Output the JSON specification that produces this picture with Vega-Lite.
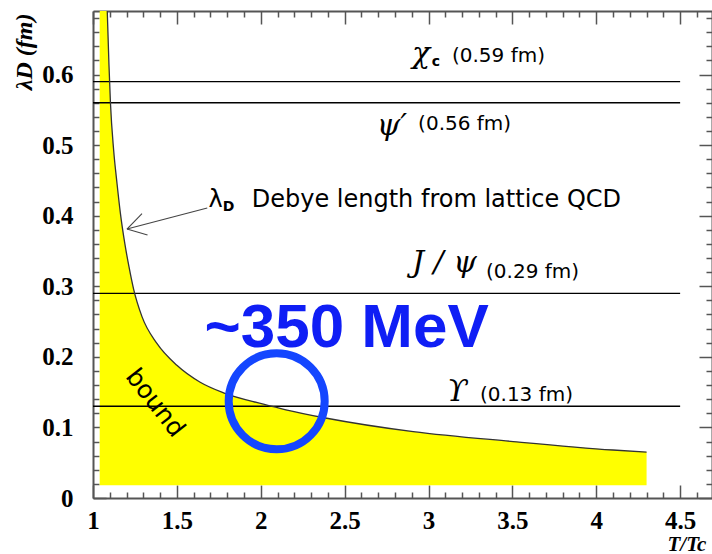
{
  "$schema": "https://vega.github.io/schema/vega-lite/v6.json",
  "width": 619,
  "height": 487,
  "autosize": {"type": "none"},
  "padding": {"left": 93, "top": 11, "right": 0, "bottom": 56},
  "background": "white",
  "config": {"view": {"stroke": null}},
  "datasets": {
    "curve": [
      {"T": 1.085, "L": 0.69},
      {"T": 1.095, "L": 0.615},
      {"T": 1.104, "L": 0.56},
      {"T": 1.123, "L": 0.493},
      {"T": 1.143, "L": 0.446},
      {"T": 1.163, "L": 0.404},
      {"T": 1.19, "L": 0.36},
      {"T": 1.215, "L": 0.327},
      {"T": 1.242, "L": 0.296},
      {"T": 1.292, "L": 0.257},
      {"T": 1.381, "L": 0.219},
      {"T": 1.5, "L": 0.188},
      {"T": 1.639, "L": 0.164},
      {"T": 1.778, "L": 0.149},
      {"T": 2.016, "L": 0.133},
      {"T": 2.15, "L": 0.125},
      {"T": 2.394, "L": 0.113},
      {"T": 2.909, "L": 0.094},
      {"T": 3.505, "L": 0.08},
      {"T": 4.1, "L": 0.068},
      {"T": 4.3, "L": 0.065}
    ],
    "area": [
      {"T": 1.04, "L": 0.69},
      {"T": 1.085, "L": 0.69},
      {"T": 1.095, "L": 0.615},
      {"T": 1.104, "L": 0.56},
      {"T": 1.123, "L": 0.493},
      {"T": 1.143, "L": 0.446},
      {"T": 1.163, "L": 0.404},
      {"T": 1.19, "L": 0.36},
      {"T": 1.215, "L": 0.327},
      {"T": 1.242, "L": 0.296},
      {"T": 1.292, "L": 0.257},
      {"T": 1.381, "L": 0.219},
      {"T": 1.5, "L": 0.188},
      {"T": 1.639, "L": 0.164},
      {"T": 1.778, "L": 0.149},
      {"T": 2.016, "L": 0.133},
      {"T": 2.15, "L": 0.125},
      {"T": 2.394, "L": 0.113},
      {"T": 2.909, "L": 0.094},
      {"T": 3.505, "L": 0.08},
      {"T": 4.1, "L": 0.068},
      {"T": 4.3, "L": 0.065}
    ],
    "hlines": [{"v": 0.59}, {"v": 0.56}, {"v": 0.29}, {"v": 0.13}],
    "arrow": [
      {"T": 1.681, "L": 0.411, "T2": 1.2025, "L2": 0.381},
      {"T": 1.2025, "L": 0.381, "T2": 1.292, "L2": 0.403},
      {"T": 1.2025, "L": 0.381, "T2": 1.325, "L2": 0.3725}
    ],
    "fm": [
      {"T": 3.14, "L": 0.618, "t": "(0.59 fm)"},
      {"T": 2.938, "L": 0.521, "t": "(0.56 fm)"},
      {"T": 3.343, "L": 0.312, "t": "(0.29 fm)"},
      {"T": 3.307, "L": 0.137, "t": "(0.13 fm)"}
    ],
    "sym": [
      {"T": 2.902, "L": 0.617, "t": "χ"},
      {"T": 2.692, "L": 0.515, "t": "ψ′"},
      {"T": 2.902, "L": 0.32, "t": "J / ψ"},
      {"T": 3.11, "L": 0.137, "t": "ϒ"}
    ],
    "sub": [
      {"T": 3.02, "L": 0.612, "t": "c"},
      {"T": 1.773, "L": 0.406, "t": "D"}
    ],
    "lam": [{"T": 1.688, "L": 0.412, "t": "λ"}],
    "debye": [{"T": 3.047, "L": 0.412, "t": "Debye length from lattice QCD"}],
    "mev": [{"T": 2.512, "L": 0.214, "t": "~350 MeV"}],
    "bound": [{"T": 1.371, "L": 0.135, "t": "bound"}],
    "circ": [{"T": 2.095, "L": 0.137}]
  },
  "resolve": {"axis": {"x": "independent", "y": "independent"}},
  "layer": [
    {
      "data": {"name": "area"},
      "mark": {"type": "area", "color": "#ffff00", "clip": true, "interpolate": "monotone"},
      "encoding": {
        "x": {"field": "T", "type": "quantitative", "scale": {"domain": [1, 4.69], "nice": false, "zero": false},
          "axis": {"orient": "bottom", "values": [1, 1.5, 2, 2.5, 3, 3.5, 4, 4.5], "format": ".1~f", "grid": false,
            "tickSize": -13, "tickColor": "#555", "tickWidth": 1.5, "domainColor": "#555", "domainWidth": 2,
            "labelFont": "Liberation Serif", "labelFontWeight": "bold", "labelFontSize": 25, "labelColor": "black",
            "labelPadding": 23, "labelFlush": false,
            "title": "T/Tc", "titleFont": "Liberation Serif", "titleFontStyle": "italic", "titleFontWeight": "bold",
            "titleFontSize": 21, "titleColor": "black", "titleX": 574, "titleY": 52, "titleAlign": "left", "titleBaseline": "alphabetic", "titleAngle": 0}},
        "y": {"field": "L", "type": "quantitative", "scale": {"domain": [0, 0.69], "nice": false, "zero": false},
          "axis": {"orient": "left", "values": [0, 0.1, 0.2, 0.3, 0.4, 0.5, 0.6], "format": ".1~f", "grid": false,
            "tickSize": -13, "tickColor": "#555", "tickWidth": 1.5, "domainColor": "#555", "domainWidth": 2,
            "labelFont": "Liberation Serif", "labelFontWeight": "bold", "labelFontSize": 25, "labelColor": "black",
            "labelPadding": 33, "labelFlush": false,
            "title": "λD (fm)", "titleFont": "Liberation Serif", "titleFontStyle": "italic", "titleFontWeight": "bold",
            "titleFontSize": 24, "titleColor": "black", "titleAngle": 270, "titleX": -62, "titleY": 2, "titleAlign": "right", "titleBaseline": "alphabetic"}},
        "y2": {"datum": 0.018}
      }
    },
    {
      "data": {"name": "hlines"},
      "mark": {"type": "rule", "color": "black", "strokeWidth": 1.3},
      "encoding": {
        "x": {"datum": 1, "type": "quantitative", "axis": null},
        "x2": {"datum": 4.5},
        "y": {"field": "v", "type": "quantitative", "axis": null}
      }
    },
    {
      "data": {"name": "curve"},
      "mark": {"type": "line", "color": "#333", "strokeWidth": 1.3, "clip": true, "interpolate": "monotone"},
      "encoding": {
        "x": {"field": "T", "type": "quantitative",
          "axis": {"orient": "bottom", "values": [1.1,1.2,1.3,1.4,1.6,1.7,1.8,1.9,2.1,2.2,2.3,2.4,2.6,2.7,2.8,2.9,3.1,3.2,3.3,3.4,3.6,3.7,3.8,3.9,4.1,4.2,4.3,4.4,4.6],
            "labels": false, "domain": false, "grid": false, "title": null, "tickSize": -6, "tickColor": "#555", "tickWidth": 1.5}},
        "y": {"field": "L", "type": "quantitative",
          "axis": {"orient": "left", "values": [0.02,0.04,0.06,0.08,0.12,0.14,0.16,0.18,0.22,0.24,0.26,0.28,0.32,0.34,0.36,0.38,0.42,0.44,0.46,0.48,0.52,0.54,0.56,0.58,0.62,0.64,0.66,0.68],
            "labels": false, "domain": false, "grid": false, "title": null, "tickSize": -6, "tickColor": "#555", "tickWidth": 1.5}}
      }
    },
    {
      "data": {"name": "arrow"},
      "mark": {"type": "rule", "color": "#444", "strokeWidth": 1.1},
      "encoding": {
        "x": {"field": "T", "type": "quantitative",
          "axis": {"orient": "top", "values": [1, 1.5, 2, 2.5, 3, 3.5, 4, 4.5], "labels": false, "grid": false, "title": null,
            "tickSize": -13, "tickColor": "#555", "tickWidth": 1.5, "domainColor": "#555", "domainWidth": 2}},
        "x2": {"field": "T2"},
        "y": {"field": "L", "type": "quantitative",
          "axis": {"orient": "right", "values": [0, 0.1, 0.2, 0.3, 0.4, 0.5, 0.6], "labels": false, "grid": false, "title": null,
            "tickSize": -13, "tickColor": "#555", "tickWidth": 1.5, "domainColor": "#555", "domainWidth": 2}},
        "y2": {"field": "L2"}
      }
    },
    {
      "data": {"name": "circ"},
      "mark": {"type": "point", "shape": "circle", "filled": false, "size": 9216, "stroke": "#1446ff", "strokeWidth": 8, "opacity": 1},
      "encoding": {
        "x": {"field": "T", "type": "quantitative",
          "axis": {"orient": "top", "values": [1.1,1.2,1.3,1.4,1.6,1.7,1.8,1.9,2.1,2.2,2.3,2.4,2.6,2.7,2.8,2.9,3.1,3.2,3.3,3.4,3.6,3.7,3.8,3.9,4.1,4.2,4.3,4.4,4.6],
            "labels": false, "domain": false, "grid": false, "title": null, "tickSize": -6, "tickColor": "#555", "tickWidth": 1.5}},
        "y": {"field": "L", "type": "quantitative",
          "axis": {"orient": "right", "values": [0.02,0.04,0.06,0.08,0.12,0.14,0.16,0.18,0.22,0.24,0.26,0.28,0.32,0.34,0.36,0.38,0.42,0.44,0.46,0.48,0.52,0.54,0.56,0.58,0.62,0.64,0.66,0.68],
            "labels": false, "domain": false, "grid": false, "title": null, "tickSize": -6, "tickColor": "#555", "tickWidth": 1.5}}
      }
    },
    {
      "data": {"name": "fm"},
      "mark": {"type": "text", "font": "DejaVu Sans", "fontSize": 20, "align": "left", "baseline": "alphabetic", "color": "black"},
      "encoding": {
        "x": {"field": "T", "type": "quantitative", "axis": null},
        "y": {"field": "L", "type": "quantitative", "axis": null},
        "text": {"field": "t"}
      }
    },
    {
      "data": {"name": "sym"},
      "mark": {"type": "text", "font": "DejaVu Serif", "fontStyle": "italic", "fontSize": 30, "align": "left", "baseline": "alphabetic", "color": "black"},
      "encoding": {
        "x": {"field": "T", "type": "quantitative", "axis": null},
        "y": {"field": "L", "type": "quantitative", "axis": null},
        "text": {"field": "t"}
      }
    },
    {
      "data": {"name": "sub"},
      "mark": {"type": "text", "font": "DejaVu Sans", "fontSize": 14, "fontWeight": "bold", "align": "left", "baseline": "alphabetic", "color": "black"},
      "encoding": {
        "x": {"field": "T", "type": "quantitative", "axis": null},
        "y": {"field": "L", "type": "quantitative", "axis": null},
        "text": {"field": "t"}
      }
    },
    {
      "data": {"name": "lam"},
      "mark": {"type": "text", "font": "DejaVu Sans", "fontSize": 24, "align": "left", "baseline": "alphabetic", "color": "black"},
      "encoding": {
        "x": {"field": "T", "type": "quantitative", "axis": null},
        "y": {"field": "L", "type": "quantitative", "axis": null},
        "text": {"field": "t"}
      }
    },
    {
      "data": {"name": "debye"},
      "mark": {"type": "text", "font": "DejaVu Sans", "fontSize": 24, "align": "center", "baseline": "alphabetic", "color": "black"},
      "encoding": {
        "x": {"field": "T", "type": "quantitative", "axis": null},
        "y": {"field": "L", "type": "quantitative", "axis": null},
        "text": {"field": "t"}
      }
    },
    {
      "data": {"name": "bound"},
      "mark": {"type": "text", "font": "DejaVu Sans", "fontSize": 25, "align": "center", "baseline": "middle", "angle": 52, "color": "black"},
      "encoding": {
        "x": {"field": "T", "type": "quantitative", "axis": null},
        "y": {"field": "L", "type": "quantitative", "axis": null},
        "text": {"field": "t"}
      }
    },
    {
      "data": {"name": "mev"},
      "mark": {"type": "text", "font": "Liberation Sans", "fontWeight": "bold", "fontSize": 62, "align": "center", "baseline": "alphabetic", "color": "#0f1ef5"},
      "encoding": {
        "x": {"field": "T", "type": "quantitative", "axis": null},
        "y": {"field": "L", "type": "quantitative", "axis": null},
        "text": {"field": "t"}
      }
    }
  ]
}
